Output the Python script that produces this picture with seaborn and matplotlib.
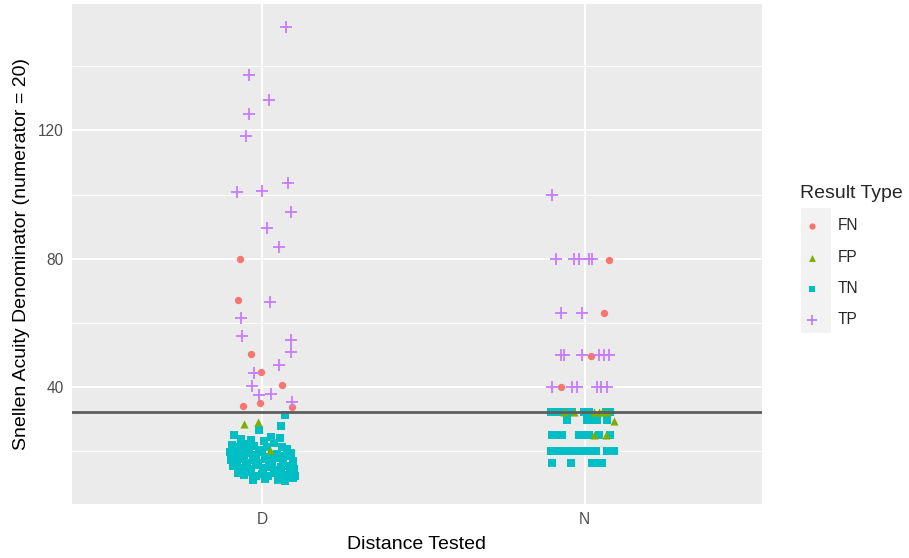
import matplotlib
matplotlib.use("Agg")
import matplotlib.pyplot as plt
from matplotlib.patches import Rectangle
import pandas as pd
import seaborn as sns

distances = ["D", "N"]
result_types = ["FN", "FP", "TN", "TP"]
palette = {"FN": "#F8766D", "FP": "#7CAE00", "TN": "#00BFC4", "TP": "#C77CFF"}
markers = {"FN": "o", "FP": "^", "TN": "s", "TP": "+"}
sizes = {"FN": 28, "FP": 34, "TN": 32, "TP": 70}

# Distance test (D): horizontal jitter offset and Snellen denominator
d_fn_off = [-0.070, -0.074, -0.034, -0.005, 0.060, -0.059, -0.008, 0.093]
d_fn_val = [80.0, 67.1, 50.3, 44.6, 40.4, 33.8, 34.9, 33.5]

d_fp_off = [-0.057, -0.014, 0.023]
d_fp_val = [28.3, 29.0, 20.3]

d_tp_off = [0.075, -0.041, 0.020, -0.041, -0.050, 0.080, -0.077, -0.002, 0.088,
            0.015, 0.053, 0.023, -0.067, -0.062, 0.090, 0.088, 0.051, -0.026,
            -0.031, -0.010, 0.026, 0.093]
d_tp_val = [152.4, 137.2, 129.5, 125.2, 118.2, 103.7, 100.7, 101.2, 94.5,
            89.4, 83.7, 66.3, 61.5, 55.7, 54.7, 50.8, 46.9, 44.3,
            40.1, 37.5, 37.8, 35.2]

d_tn_off = [0.070, 0.057, -0.010, 0.054, 0.028, -0.088, -0.067, -0.036, 0.005,
            -0.095, -0.080, -0.060, -0.045, -0.025, -0.010, 0.015, 0.035, 0.060, 0.078,
            -0.100, -0.085, -0.070, -0.055, -0.040, -0.020, 0.000, 0.020, 0.045, 0.070, 0.090,
            -0.098, -0.078, -0.062, -0.048, -0.030, -0.012, 0.008, 0.030, 0.050, 0.065, 0.095,
            -0.090, -0.072, -0.050, -0.035, -0.018, 0.002, 0.022, 0.040, 0.058, 0.080, 0.100,
            -0.075, -0.058, -0.040, -0.020, 0.000, 0.018, 0.038, 0.060, 0.085, 0.102,
            -0.030, 0.010, 0.048, 0.070, 0.095]
d_tn_val = [31.3, 27.8, 26.6, 24.0, 24.3, 25.0, 23.7, 23.4, 22.9,
            21.8, 21.0, 22.0, 20.8, 21.5, 20.2, 21.2, 22.3, 21.0, 20.5,
            19.5, 18.6, 19.8, 18.2, 19.2, 18.5, 19.6, 18.0, 19.0, 18.4, 19.3,
            17.2, 16.5, 17.5, 16.2, 17.0, 16.0, 17.3, 16.4, 17.6, 16.0, 16.8,
            15.2, 14.6, 15.0, 14.2, 15.4, 14.5, 15.0, 14.0, 14.8, 15.3, 14.4,
            13.0, 12.5, 13.2, 12.2, 12.8, 12.0, 13.0, 12.4, 12.8, 12.0,
            11.0, 11.2, 10.8, 10.5, 11.4]

# Near test (N)
n_fn_off = [0.075, 0.060, 0.019, -0.072]
n_fn_val = [79.5, 63, 49.5, 40]

n_fp_off = [-0.064, -0.033, 0.029, 0.044, 0.055, 0.070, 0.090, 0.029, 0.065]
n_fp_val = [32, 32, 32, 32, 32, 32, 29.4, 25, 25]

n_tp_off = [-0.100, -0.090, -0.033, -0.017, 0.013, 0.024, -0.074, -0.007,
            -0.074, -0.064, -0.007, 0.044, 0.060, 0.075,
            -0.100, -0.038, -0.023, 0.039, 0.052, 0.068]
n_tp_val = [100, 80, 80, 80, 80, 80, 63, 63,
            50, 50, 50, 50, 50, 50,
            40, 40, 40, 40, 40, 40]

n_tn_off = [-0.105, -0.090, -0.074, -0.054, -0.038, -0.002, 0.013, 0.065, 0.080,
            -0.054, 0.008, 0.019, 0.039, 0.070,
            -0.100, -0.085, -0.069, -0.018, -0.002, 0.013, 0.044, 0.080,
            -0.105, -0.090, -0.074, -0.059, -0.043, -0.028, -0.012, 0.003, 0.019, 0.034, 0.070, 0.091,
            -0.100, -0.043, 0.024, 0.039, 0.053]
n_tn_val = [32, 32, 32, 32, 32, 32, 32, 32, 32,
            29.5, 29.5, 29.5, 29.5, 29.5,
            25, 25, 25, 25, 25, 25, 25, 25,
            20, 20, 20, 20, 20, 20, 20, 20, 20, 20, 20, 20,
            16, 16, 16, 16, 16]

cutoff = 32

groups = [
    ("D", "TN", d_tn_off, d_tn_val), ("N", "TN", n_tn_off, n_tn_val),
    ("D", "FP", d_fp_off, d_fp_val), ("N", "FP", n_fp_off, n_fp_val),
    ("D", "FN", d_fn_off, d_fn_val), ("N", "FN", n_fn_off, n_fn_val),
    ("D", "TP", d_tp_off, d_tp_val), ("N", "TP", n_tp_off, n_tp_val),
]
rows = []
for dist, res, offs, vals in groups:
    for o, v in zip(offs, vals):
        rows.append({"Distance Tested": dist, "Result Type": res,
                     "x": distances.index(dist) + o, "Denominator": v})
df = pd.DataFrame(rows)

sns.set_style("white")
plt.rcParams["font.family"] = ["Liberation Sans", "DejaVu Sans"]

W, H = 909, 558
fig = plt.figure(figsize=(W / 100, H / 100), dpi=100)
ax = fig.add_axes([72 / W, 54 / H, 690 / W, 500 / H])
ax.set_facecolor("#EBEBEB")
for s in ax.spines.values():
    s.set_visible(False)

ax.set_xlim(-0.59, 1.55)
ax.set_ylim(3.35, 159.5)
ax.set_yticks([40, 80, 120])
ax.set_yticks([20, 60, 100, 140], minor=True)
ax.set_xticks([0, 1])
ax.set_xticklabels(distances)
ax.grid(which="major", color="white", linewidth=1.3)
ax.grid(which="minor", axis="y", color="white", linewidth=0.65)
ax.set_axisbelow(True)
ax.tick_params(which="major", length=3, width=1, color="#333333",
               labelcolor="#4D4D4D", labelsize=11.2, pad=3)
ax.tick_params(which="minor", length=0)

for res in ["TN", "FP", "FN", "TP"]:
    sub = df[df["Result Type"] == res]
    kw = dict(linewidth=1.3) if res == "TP" else dict(linewidth=0)
    sns.scatterplot(data=sub, x="x", y="Denominator", ax=ax, color=palette[res],
                    marker=markers[res], s=sizes[res], label=res, zorder=3, **kw)

ax.axhline(cutoff, color="#5E5E5E", linewidth=2.0, zorder=4)

ax.set_xlabel("Distance Tested", fontsize=14, color="black", labelpad=6)
ax.set_ylabel("Snellen Acuity Denominator (numerator = 20)", fontsize=14,
              color="black", labelpad=6)

handles, labels = ax.get_legend_handles_labels()
order = [labels.index(r) for r in result_types]
ax.legend([handles[i] for i in order], result_types, title="Result Type",
          loc="upper left", bbox_to_anchor=(800 / W, 1 - 185 / H),
          bbox_transform=fig.transFigure, frameon=False, fontsize=11.2,
          title_fontsize=14, alignment="left", labelspacing=1.05,
          handlelength=1.5, handletextpad=0.9, borderpad=0, borderaxespad=0,
          markerscale=0.85)

fig.add_artist(Rectangle((801 / W, 1 - 333 / H), 30 / W, 125 / H,
                         transform=fig.transFigure, facecolor="#F2F2F2",
                         edgecolor="none", zorder=0))

fig.savefig("out.png", dpi=100)
